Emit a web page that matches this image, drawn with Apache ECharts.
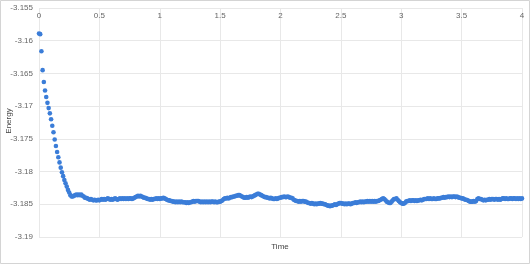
<!DOCTYPE html>
<html>
<head>
<meta charset="utf-8">
<script src="https://cdn.jsdelivr.net/npm/echarts@6/dist/echarts.min.js"></script>
<style>
html,body{margin:0;padding:0;background:#fff;}
#chart{width:530px;height:264px;}
</style>
</head>
<body>
<div id="chart"></div>
<script>
// Time axis: samples every timeStep starting at 0
var timeStep = 0.01;
var xTicks = [0, 0.5, 1, 1.5, 2, 2.5, 3, 3.5, 4];
var yTicks = [-3.19, -3.185, -3.18, -3.175, -3.17, -3.165, -3.16, -3.155];
var xTitle = 'Time';
var yTitle = 'Energy';
var energy = [
-3.1589,-3.1590,-3.1616,-3.1645,-3.1663,-3.1676,-3.1686,-3.1695,-3.1703,-3.1711,
-3.1720,-3.1730,-3.1740,-3.1751,-3.1761,-3.1770,-3.1778,-3.1786,-3.1794,-3.1801,
-3.1807,-3.1813,-3.1818,-3.1823,-3.1828,-3.1832,-3.1836,-3.1838,-3.1838,-3.1837,
-3.1836,-3.1835,-3.1836,-3.1835,-3.1836,-3.1835,-3.1837,-3.1838,-3.1840,-3.1840,
-3.1841,-3.1842,-3.1843,-3.1842,-3.1843,-3.1844,-3.1843,-3.1844,-3.1844,-3.1843,
-3.1844,-3.1843,-3.1842,-3.1843,-3.1842,-3.1843,-3.1842,-3.1841,-3.1842,-3.1843,
-3.1842,-3.1843,-3.1842,-3.1841,-3.1842,-3.1843,-3.1842,-3.1841,-3.1842,-3.1841,
-3.1842,-3.1841,-3.1842,-3.1841,-3.1842,-3.1841,-3.1841,-3.1842,-3.1841,-3.1840,
-3.1839,-3.1838,-3.1837,-3.1838,-3.1837,-3.1838,-3.1839,-3.1840,-3.1840,-3.1841,
-3.1842,-3.1842,-3.1843,-3.1842,-3.1843,-3.1842,-3.1842,-3.1841,-3.1842,-3.1841,
-3.1842,-3.1841,-3.1841,-3.1840,-3.1841,-3.1842,-3.1843,-3.1844,-3.1844,-3.1845,
-3.1845,-3.1846,-3.1846,-3.1847,-3.1846,-3.1847,-3.1846,-3.1847,-3.1846,-3.1847,
-3.1847,-3.1847,-3.1848,-3.1847,-3.1848,-3.1847,-3.1847,-3.1846,-3.1845,-3.1846,
-3.1845,-3.1845,-3.1845,-3.1846,-3.1847,-3.1846,-3.1847,-3.1846,-3.1847,-3.1846,
-3.1847,-3.1846,-3.1847,-3.1846,-3.1846,-3.1847,-3.1846,-3.1847,-3.1847,-3.1846,
-3.1846,-3.1845,-3.1844,-3.1842,-3.1841,-3.1841,-3.1840,-3.1841,-3.1840,-3.1839,
-3.1839,-3.1838,-3.1838,-3.1837,-3.1837,-3.1836,-3.1836,-3.1837,-3.1838,-3.1839,
-3.1840,-3.1840,-3.1839,-3.1840,-3.1839,-3.1838,-3.1839,-3.1838,-3.1837,-3.1836,
-3.1835,-3.1834,-3.1834,-3.1835,-3.1836,-3.1837,-3.1838,-3.1839,-3.1839,-3.1840,
-3.1840,-3.1841,-3.1840,-3.1841,-3.1842,-3.1842,-3.1841,-3.1842,-3.1841,-3.1840,
-3.1840,-3.1839,-3.1839,-3.1838,-3.1839,-3.1839,-3.1838,-3.1839,-3.1840,-3.1840,
-3.1841,-3.1843,-3.1844,-3.1845,-3.1845,-3.1846,-3.1845,-3.1846,-3.1845,-3.1845,
-3.1846,-3.1846,-3.1847,-3.1848,-3.1848,-3.1849,-3.1848,-3.1849,-3.1850,-3.1849,
-3.1850,-3.1849,-3.1849,-3.1848,-3.1849,-3.1849,-3.1850,-3.1850,-3.1851,-3.1852,
-3.1852,-3.1853,-3.1852,-3.1852,-3.1851,-3.1850,-3.1851,-3.1850,-3.1849,-3.1848,
-3.1848,-3.1849,-3.1849,-3.1850,-3.1849,-3.1850,-3.1849,-3.1849,-3.1850,-3.1849,
-3.1848,-3.1848,-3.1847,-3.1848,-3.1847,-3.1847,-3.1846,-3.1847,-3.1846,-3.1847,
-3.1846,-3.1846,-3.1845,-3.1846,-3.1845,-3.1846,-3.1845,-3.1846,-3.1845,-3.1846,
-3.1845,-3.1845,-3.1844,-3.1843,-3.1842,-3.1841,-3.1842,-3.1844,-3.1846,-3.1847,
-3.1848,-3.1848,-3.1846,-3.1844,-3.1842,-3.1842,-3.1841,-3.1843,-3.1845,-3.1847,
-3.1848,-3.1849,-3.1849,-3.1848,-3.1846,-3.1845,-3.1845,-3.1844,-3.1845,-3.1844,
-3.1844,-3.1845,-3.1844,-3.1845,-3.1844,-3.1844,-3.1843,-3.1844,-3.1843,-3.1842,
-3.1842,-3.1842,-3.1841,-3.1842,-3.1841,-3.1842,-3.1842,-3.1841,-3.1842,-3.1842,
-3.1841,-3.1841,-3.1841,-3.1840,-3.1840,-3.1839,-3.1840,-3.1839,-3.1839,-3.1838,
-3.1839,-3.1838,-3.1839,-3.1838,-3.1838,-3.1839,-3.1838,-3.1839,-3.1840,-3.1840,
-3.1841,-3.1841,-3.1842,-3.1843,-3.1843,-3.1844,-3.1845,-3.1846,-3.1846,-3.1846,
-3.1845,-3.1846,-3.1845,-3.1842,-3.1841,-3.1842,-3.1842,-3.1843,-3.1844,-3.1843,
-3.1844,-3.1843,-3.1843,-3.1842,-3.1843,-3.1842,-3.1842,-3.1843,-3.1842,-3.1842,
-3.1843,-3.1842,-3.1843,-3.1842,-3.1841,-3.1841,-3.1842,-3.1841,-3.1842,-3.1842,
-3.1841,-3.1841,-3.1842,-3.1841,-3.1841,-3.1842,-3.1841,-3.1842,-3.1841,-3.1842,
-3.1841
];

var points = energy.map(function (v, i) { return [+(i * timeStep).toFixed(2), v]; });

var chart = echarts.init(document.getElementById('chart'), null, {renderer: 'canvas'});
var font = 'Liberation Sans, Arial, sans-serif';
chart.setOption({
  animation: false,
  backgroundColor: '#fff',
  grid: {left: 39, right: 8, top: 8, bottom: 27, containLabel: false, outerBoundsMode: 'none'},
  xAxis: {
    type: 'value',
    position: 'top',
    min: xTicks[0], max: xTicks[xTicks.length - 1], interval: 0.5,
    axisLine: {show: false},
    axisTick: {show: false},
    axisLabel: {inside: true, margin: 4, fontSize: 8, color: '#666', fontFamily: font,
      formatter: function (v) { return String(+v.toFixed(2)); }},
    splitLine: {show: true, lineStyle: {color: '#e8e8e8', width: 1}}
  },
  yAxis: {
    type: 'value',
    min: yTicks[0], max: yTicks[yTicks.length - 1], interval: 0.005,
    axisLine: {show: false},
    axisTick: {show: false},
    axisLabel: {margin: 6, fontSize: 8, color: '#666', fontFamily: font,
      formatter: function (v) { return String(+v.toFixed(3)); }},
    splitLine: {show: true, lineStyle: {color: '#e8e8e8', width: 1}}
  },
  graphic: [
    {type: 'rect', shape: {x: 0.5, y: 0.5, width: 529, height: 263},
      style: {fill: 'none', stroke: '#d4d4d4', lineWidth: 1}, silent: true},
    {type: 'text', x: 280, y: 247,
      style: {text: xTitle, fontSize: 8, fill: '#444', fontFamily: font,
        textAlign: 'center', textVerticalAlign: 'middle'}},
    {type: 'text', x: 9, y: 121, rotation: Math.PI / 2,
      style: {text: yTitle, fontSize: 8, fill: '#444', fontFamily: font,
        textAlign: 'center', textVerticalAlign: 'middle'}}
  ],
  series: [{
    type: 'scatter',
    data: points,
    symbolSize: 4.6,
    itemStyle: {color: '#3b7dd8', opacity: 1}
  }]
});
</script>
</body>
</html>
